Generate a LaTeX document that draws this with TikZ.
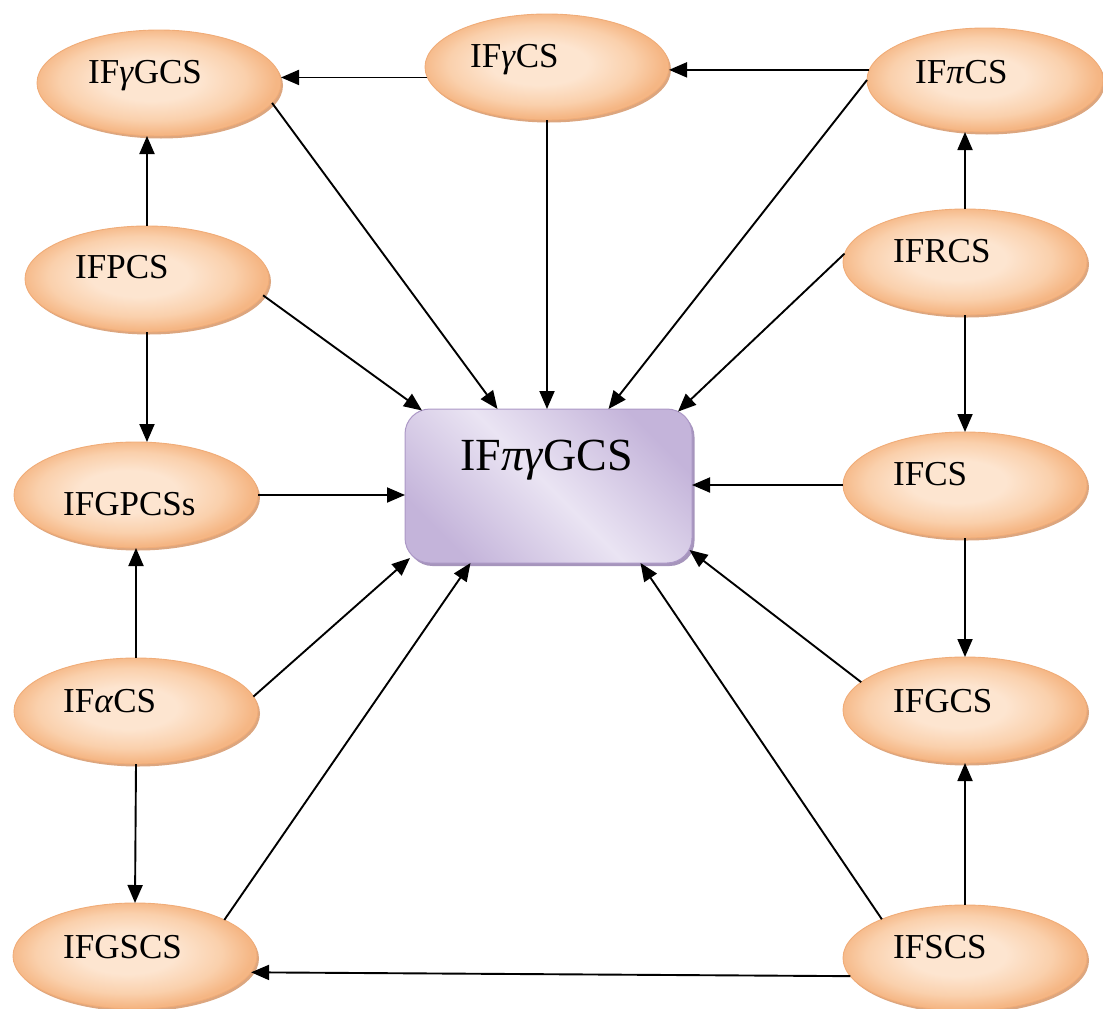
\documentclass[tikz,border=0pt]{standalone}
\usepackage{fontspec}
\setmainfont{Liberation Serif}
\usetikzlibrary{shapes.geometric,arrows.meta,shadows,calc}
\definecolor{ovA}{RGB}{245,182,132}
\definecolor{ovM}{RGB}{250,208,172}
\definecolor{ovB}{RGB}{253,229,208}
\definecolor{ovE}{RGB}{240,172,120}
\definecolor{ovS}{RGB}{214,150,104}
\definecolor{bxA}{RGB}{196,180,218}
\definecolor{bxB}{RGB}{234,228,243}
\definecolor{bxE}{RGB}{172,152,198}
\definecolor{bxS}{RGB}{150,130,176}
\pgfdeclareradialshading{ovshade}{\pgfpoint{-2bp}{2bp}}{color(0bp)=(ovB); color(10bp)=(ovB); color(19bp)=(ovM); color(25bp)=(ovA); color(50bp)=(ovA)}
\begin{document}
\begin{tikzpicture}[x=1pt,y=-1pt,
  oval/.style={ellipse, inner sep=0pt, outer sep=0pt, draw=ovE, line width=0.9pt,
    minimum width=244pt, minimum height=106pt, shade, shading=ovshade,
    drop shadow={shadow xshift=2pt, shadow yshift=-2.5pt, fill=ovS, opacity=0.85}},
  centre/.style={rectangle, rounded corners=25pt, inner sep=0pt, outer sep=0pt,
    draw=bxE, line width=1pt, minimum width=287pt, minimum height=154pt,
    left color=bxA, right color=bxA, middle color=bxB, shading angle=-45,
    drop shadow={shadow xshift=2.5pt, shadow yshift=-3pt, fill=bxS, opacity=0.85}},
  lbl/.style={font=\fontsize{35}{38}\selectfont, inner sep=0pt, anchor=base west},
  clbl/.style={font=\fontsize{46}{50}\selectfont, inner sep=0pt, anchor=base west},
  arr/.style={line width=1.9pt, -{Triangle[length=18pt,width=15pt]}}]
\useasboundingbox (0,0) rectangle (1103,1009);

% nodes
\node[oval] (ygcs) at (159,83) {};
\node[oval] (ycs)  at (547,67) {};
\node[oval, minimum width=236pt, minimum height=104pt] (pics) at (985,80) {};
\node[oval] (pcs)  at (147,279) {};
\node[oval] (rcs)  at (965,262) {};
\node[oval] (gpcs) at (136,495) {};
\node[oval] (cs)   at (965,485) {};
\node[oval] (acs)  at (136,711) {};
\node[oval] (gcs)  at (965,710) {};
\node[oval] (gscs) at (135,956) {};
\node[oval] (scs)  at (965,958) {};
\node[centre] (c) at (548.5,486) {};

% labels
\node[lbl] (tygcs) at (88,83)  {IF\textit{γ}GCS};
\node[lbl] (tycs)  at (470,67) {IF\textit{γ}CS};
\node[lbl] (tpics) at (915,83) {IF\textit{π}CS};
\node[lbl] (tpcs)  at (75,278) {IFPCS};
\node[lbl] (trcs)  at (893,262) {IFRCS};
\node[lbl] (tgpcs) at (63,515) {IFGPCSs};
\node[lbl] (tcs)   at (893,485) {IFCS};
\node[lbl] (tacs)  at (63,712) {IF\textit{α}CS};
\node[lbl] (tgcs)  at (893,712) {IFGCS};
\node[lbl] (tgscs) at (63,958) {IFGSCS};
\node[lbl] (tscs)  at (893,958) {IFSCS};
\node[clbl] (tc)   at (460,470) {IF\textit{πγ}GCS};

% connectors between ovals
\draw[arr] (ycs.185) -- (ycs.185 -| ygcs.east);
\draw[arr] (pics.175) -- (pics.175 -| ycs.east);
\draw[arr] (pcs.north) -- (pcs.north |- ygcs.south);
\draw[arr] (rcs.north) -- (rcs.north |- pics.south);
\draw[arr] (pcs.south) -- (pcs.south |- gpcs.north);
\draw[arr] (rcs.south) -- (cs.north);
\draw[arr] (acs.north) -- (acs.north |- gpcs.south);
\draw[arr] (cs.south) -- (gcs.north);
\draw[arr] (acs.south) -- (gscs.north);
\draw[arr] (scs.north) -- (scs.north |- gcs.south);
\draw[arr] (scs.189) -- (gscs.-8);

% connectors to the centre
\draw[arr] (ygcs.-10) -- ([xshift=-51pt]c.north);
\draw[arr] (ycs.south) -- (ycs.south |- c.north);
\draw[arr] (pics.west) -- ([xshift=60pt]c.north);
\draw[arr] (rcs.176) -- ([xshift=-14pt,yshift=-2.6pt]c.north east);
\draw[arr] (pcs.-8) -- ([xshift=17pt,yshift=-1.5pt]c.north west);
\draw[arr] (gpcs.east) -- (gpcs.east -| c.west);
\draw[arr] (cs.west) -- (cs.west -| c.east);
\draw[arr] (acs.7) -- ([xshift=5pt,yshift=5pt]c.south west);
\draw[arr] (gscs.22) -- ([xshift=-78pt]c.south);
\draw[arr] (scs.155) -- ([xshift=92pt]c.south);
\draw[arr] (gcs.165) -- ([xshift=-2.5pt,yshift=13pt]c.south east);
\end{tikzpicture}
\end{document}
